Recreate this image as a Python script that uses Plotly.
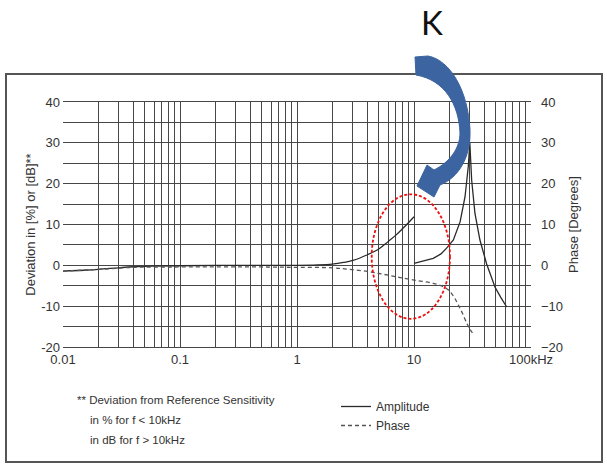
import plotly.graph_objects as go

# ---------------- data ----------------
amp_pct_f = [0.01, 0.015, 0.02, 0.03, 0.04, 0.06, 0.1, 0.2, 0.5, 1, 1.5, 2, 2.5, 3, 4, 5, 6, 7, 8, 9, 10]
amp_pct_v = [-1.4, -1.2, -1.0, -0.6, -0.35, -0.2, -0.1, 0, 0, 0, 0.1, 0.3, 0.7, 1.2, 2.6, 4.0, 5.8, 7.4, 9.0, 10.5, 11.9]

amp_db_f = [10, 12, 14.6, 17, 19, 21.7, 24.8, 27.3, 29.1, 30, 31.1, 33.2, 36.6, 41.7, 49.2, 55, 62]
amp_db_v = [0.5, 1.0, 1.7, 2.8, 4.2, 6.2, 10.7, 16.8, 24.2, 30, 20.9, 12.7, 6.2, 0.4, -5.3, -7.8, -10.2]

phase_f = [0.01, 0.02, 0.04, 0.1, 0.5, 1, 2, 2.84, 4, 5, 6.24, 7.6, 10, 14.6, 17, 19.6, 22, 24, 26, 28.3, 30, 32]
phase_v = [-1.4, -1.0, -0.5, -0.4, -0.4, -0.5, -0.6, -1.0, -1.5, -2.0, -2.5, -3.0, -3.6, -4.4, -5.0, -6.0, -7.8, -9.8, -11.8, -14.2, -15.6, -16.8]

x_major = [0.01, 0.1, 1, 10, 100]
x_major_text = ["0.01", "0.1", "1", "10", "100kHz"]
y_ticks = [-20, -15, -10, -5, 0, 5, 10, 15, 20, 25, 30, 35, 40]
y_labels = [-20, -10, 0, 10, 20, 30, 40]

footnote = ["** Deviation from Reference Sensitivity",
            "in % for f < 10kHz",
            "in dB for f > 10kHz"]

# ---------------- figure geometry ----------------
W, H = 607, 467
L, T = 63, 102               # plot area: x 63..531, y 102..347 (window pixels)
R, B = W - 531, H - 347
PW, PH = W - L - R, H - T - B


def px(x, y):
    """window pixel -> paper coordinates"""
    return (x - L) / PW, (H - B - y) / PH


def pth(points):
    out = []
    for cmd, *xy in points:
        coords = []
        for i in range(0, len(xy), 2):
            a, b = px(xy[i], xy[i + 1])
            coords.append(f"{a:.5f},{b:.5f}")
        out.append(cmd + " " + " ".join(coords))
    return " ".join(out) + " Z"


# gridline positions 1..9 per decade
x_grid = []
for d in [0.01, 0.1, 1, 10]:
    for m in range(1, 10):
        x_grid.append(round(d * m, 6))
x_grid.append(100)
x_text = [x_major_text[x_major.index(v)] if v in x_major else "" for v in x_grid]
y_text = [str(v) if v in y_labels else "" for v in y_ticks]

FONT = "Liberation Sans, Arial, sans-serif"
GRID = "#474747"

fig = go.Figure()
fig.add_trace(go.Scatter(x=amp_pct_f, y=amp_pct_v, mode="lines", name="Amplitude",
                         legendgroup="a", line=dict(color="#2a2a2a", width=1.3, shape="spline")))
fig.add_trace(go.Scatter(x=amp_db_f, y=amp_db_v, mode="lines", name="Amplitude",
                         legendgroup="a", showlegend=False,
                         line=dict(color="#2a2a2a", width=1.3)))
fig.add_trace(go.Scatter(x=phase_f, y=phase_v, mode="lines", name="Phase", yaxis="y2",
                         line=dict(color="#555555", width=1.3, dash="4px,3px", shape="spline")))

fig.update_layout(
    width=W, height=H,
    margin=dict(l=L, r=R, t=T, b=B, autoexpand=False),
    paper_bgcolor="white", plot_bgcolor="white",
    font=dict(family=FONT, size=13, color="#333"),
    xaxis=dict(type="log", range=[-2, 2], tickvals=x_grid, ticktext=x_text,
               showgrid=True, gridcolor=GRID, gridwidth=1.3, ticks="",
               showline=True, linecolor=GRID, linewidth=1.3, mirror=True,
               zeroline=False, tickfont=dict(size=13, color="#333")),
    yaxis=dict(range=[-20, 40], tickvals=y_ticks, ticktext=y_text,
               showgrid=True, gridcolor=GRID, gridwidth=1.3, ticks="",
               zeroline=False, ticklabelstandoff=2,
               title=dict(text="Deviation in [%] or [dB]**", standoff=2,
                          font=dict(size=13, color="#333"))),
    yaxis2=dict(range=[-20, 40], overlaying="y", side="right", tickvals=y_labels,
                showgrid=False, ticks="", zeroline=False, ticklabelstandoff=9,
                title=dict(text="Phase [Degrees]", standoff=6,
                           font=dict(size=13, color="#333"))),
    legend=dict(x=px(336, 0)[0], y=px(0, 392)[1], xanchor="left", yanchor="top",
                bgcolor="rgba(0,0,0,0)", font=dict(size=12, color="#333"),
                tracegroupgap=0, itemwidth=30),
    showlegend=True,
)

shapes = []
# outer frame
x0, y0 = px(6, 74)
x1, y1 = px(602, 462)
shapes.append(dict(type="rect", xref="paper", yref="paper", x0=x0, y0=y0, x1=x1, y1=y1,
                   line=dict(color="#555", width=2), layer="above"))
# red dashed ellipse (in data coordinates)
shapes.append(dict(type="circle", xref="x", yref="y", x0=4.35, x1=20.3, y0=-13.1, y1=17.4,
                   line=dict(color="#ee1111", width=1.8, dash="3px,2px"), layer="above"))
# blue curved arrow
arrow = pth([
    ("M", 415, 57), ("L", 428, 56),
    ("C", 450, 60, 468, 90, 470, 130),
    ("C", 471, 158, 458, 178, 440, 185),
    ("L", 434, 197), ("L", 417, 186), ("L", 427, 165), ("L", 434, 170),
    ("C", 450, 162, 460, 148, 460, 133),
    ("C", 459, 105, 445, 80, 416, 75),
])
shapes.append(dict(type="path", xref="paper", yref="paper", path=arrow,
                   fillcolor="#3b64a0", line=dict(color="#3b64a0", width=1), layer="above"))
fig.update_layout(shapes=shapes)

ann = []
kx, ky = px(432, 22)
ann.append(dict(xref="paper", yref="paper", x=kx, y=ky, text="K", showarrow=False,
                font=dict(family="Lato, Liberation Sans, sans-serif", size=33, color="#111"),
                xanchor="center", yanchor="middle"))
fx = [75, 88, 88]
fy = [400, 420, 440]
for t, xx, yy in zip(footnote, fx, fy):
    a, b = px(xx, yy)
    ann.append(dict(xref="paper", yref="paper", x=a, y=b, text=t, showarrow=False,
                    xanchor="left", yanchor="middle", font=dict(size=11.5, color="#333")))
fig.update_layout(annotations=ann)

fig.write_html("out.html", config={"displayModeBar": False},
               post_script="document.body.style.margin='0px';")
